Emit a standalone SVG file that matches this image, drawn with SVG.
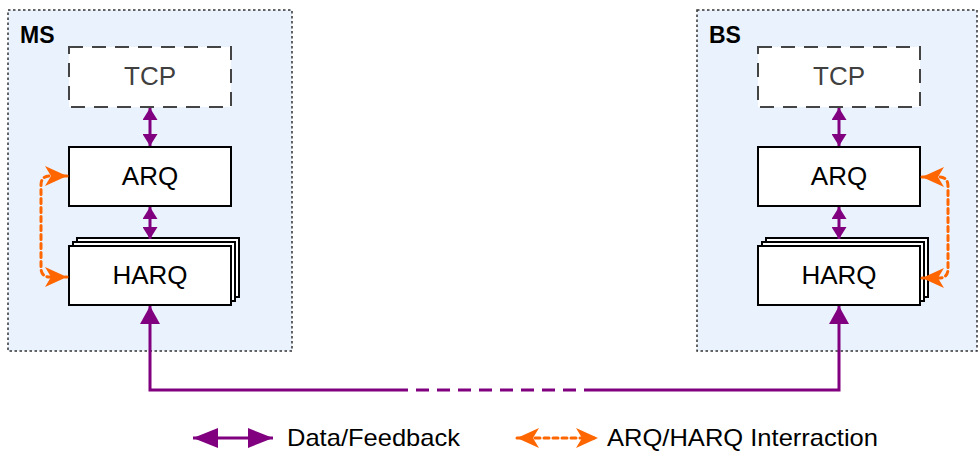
<svg xmlns="http://www.w3.org/2000/svg" width="978" height="452" viewBox="0 0 978 452">
<style>
  .container { fill: #EAF2FD; stroke: #333; stroke-width: 1.5; stroke-dasharray: 2.5 2.5; }
  .title { font-family: "Liberation Sans", Arial, sans-serif; font-weight: bold; font-size: 23px; fill: #000; }
  .tcp { fill: #fff; stroke: #444; stroke-width: 2; stroke-dasharray: 14 9; }
  .box { fill: #fff; stroke: #000; stroke-width: 2; }
  .lbl { font-family: "Liberation Sans", Arial, sans-serif; font-size: 26px; text-anchor: middle; fill: #000; }
  .tcplbl { fill: #404040; }
  .data { fill: none; stroke: #800080; stroke-width: 3; }
  .inter { fill: none; stroke: #FF6600; stroke-width: 3; stroke-dasharray: 5 4; stroke-linecap: round; }
  .ahp { fill: #800080; }
  .aho { fill: #FF6600; }
  .legend { font-family: "Liberation Sans", Arial, sans-serif; font-size: 24px; fill: #000; }
</style>
<defs>
  <marker id="pS" markerUnits="userSpaceOnUse" viewBox="0 0 12 15" refX="12" refY="7.5" markerWidth="12" markerHeight="15" orient="auto-start-reverse">
    <path d="M0,0 L12,7.5 L0,15 Z" class="ahp"/>
  </marker>
  <marker id="pL" markerUnits="userSpaceOnUse" viewBox="0 0 18 20" refX="18" refY="10" markerWidth="18" markerHeight="20" orient="auto-start-reverse">
    <path d="M0,0 L18,10 L0,20 Z" class="ahp"/>
  </marker>
  <marker id="pLeg" markerUnits="userSpaceOnUse" viewBox="0 0 25 20" refX="25" refY="10" markerWidth="25" markerHeight="20" orient="auto-start-reverse">
    <path d="M0,0 L25,10 L0,20 Z" class="ahp"/>
  </marker>
  <marker id="oA" markerUnits="userSpaceOnUse" viewBox="0 0 22 20" refX="22" refY="10" markerWidth="22" markerHeight="20" orient="auto-start-reverse">
    <path d="M0,0 L22,10 L0,20 L6,10 Z" class="aho"/>
  </marker>
</defs>

<g id="MS">
  <rect class="container" x="8" y="10" width="284" height="341"/>
  <text class="title" x="20" y="43">MS</text>
</g>
<g id="BS">
  <rect class="container" x="697" y="10" width="280" height="341"/>
  <text class="title" x="709" y="43">BS</text>
</g>

<g id="MS_TCP">
  <rect class="tcp" x="69" y="47" width="162" height="60"/>
  <text class="lbl tcplbl" x="150" y="85">TCP</text>
</g>
<g id="MS_ARQ">
  <rect class="box" x="69" y="147" width="162" height="59"/>
  <text class="lbl" x="150" y="185">ARQ</text>
</g>
<g id="MS_HARQ">
  <rect class="box" x="77" y="238" width="162" height="59"/>
  <rect class="box" x="73" y="242" width="162" height="59"/>
  <rect class="box" x="69" y="246" width="162" height="59"/>
  <text class="lbl" x="150" y="284">HARQ</text>
</g>

<g id="BS_TCP">
  <rect class="tcp" x="758" y="47" width="162" height="60"/>
  <text class="lbl tcplbl" x="839" y="85">TCP</text>
</g>
<g id="BS_ARQ">
  <rect class="box" x="758" y="147" width="162" height="59"/>
  <text class="lbl" x="839" y="185">ARQ</text>
</g>
<g id="BS_HARQ">
  <rect class="box" x="766" y="238" width="162" height="59"/>
  <rect class="box" x="762" y="242" width="162" height="59"/>
  <rect class="box" x="758" y="246" width="162" height="59"/>
  <text class="lbl" x="839" y="284">HARQ</text>
</g>

<g id="connectors">
  <line class="data" x1="150" y1="108" x2="150" y2="146" marker-start="url(#pS)" marker-end="url(#pS)"/>
  <line class="data" x1="150" y1="207" x2="150" y2="239" marker-start="url(#pS)" marker-end="url(#pS)"/>
  <line class="data" x1="839" y1="108" x2="839" y2="146" marker-start="url(#pS)" marker-end="url(#pS)"/>
  <line class="data" x1="839" y1="207" x2="839" y2="239" marker-start="url(#pS)" marker-end="url(#pS)"/>

  <path class="data" d="M150,306 L150,390 L395,390" marker-start="url(#pL)"/>
  <path class="data" d="M395,390 L597,390" stroke-dasharray="13 8"/>
  <path class="data" d="M597,390 L839,390 L839,306" marker-end="url(#pL)"/>

  <path class="inter" d="M67,176 L50,176 Q41,176 41,185 L41,268 Q41,277 50,277 L67,277" marker-start="url(#oA)" marker-end="url(#oA)"/>
  <path class="inter" d="M922,177 L939,177 Q948,177 948,186 L948,269 Q948,278 939,278 L922,278" marker-start="url(#oA)" marker-end="url(#oA)"/>
</g>

<g id="legend">
  <line class="data" x1="193" y1="438" x2="273" y2="438" marker-start="url(#pLeg)" marker-end="url(#pLeg)"/>
  <text class="legend" x="287" y="446" textLength="173" lengthAdjust="spacingAndGlyphs">Data/Feedback</text>
  <line class="inter" x1="517" y1="438" x2="598" y2="438" marker-start="url(#oA)" marker-end="url(#oA)"/>
  <text class="legend" x="607" y="446" textLength="271" lengthAdjust="spacingAndGlyphs">ARQ/HARQ Interraction</text>
</g>
</svg>
